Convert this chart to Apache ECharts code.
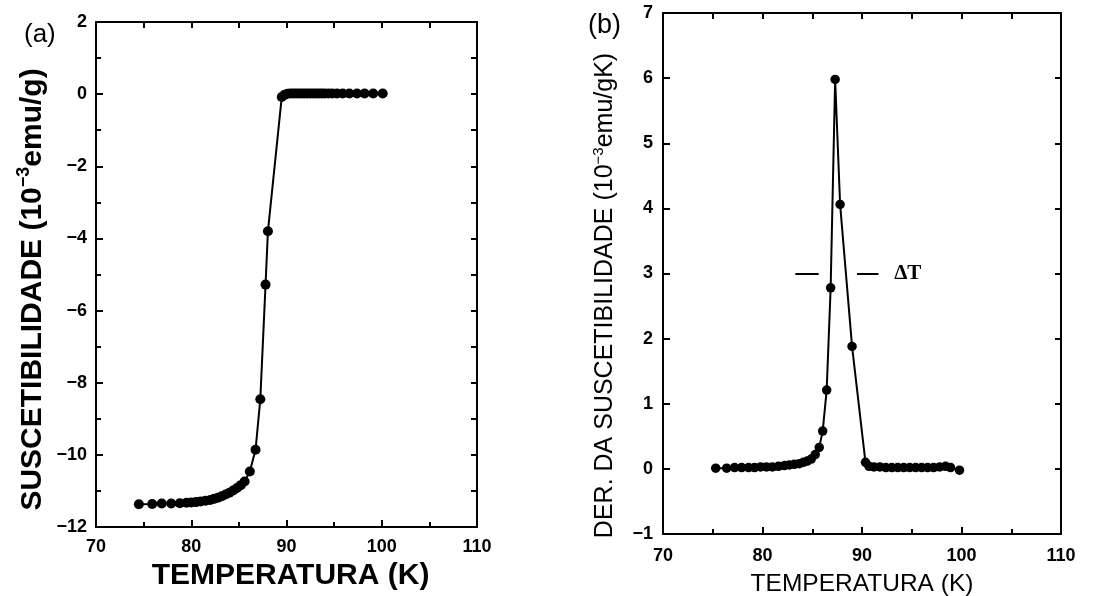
<!DOCTYPE html>
<html>
<head>
<meta charset="utf-8">
<script src="https://cdn.jsdelivr.net/npm/echarts@6/dist/echarts.min.js"></script>
<style>
  html, body { margin: 0; padding: 0; background: #fff; }
  #chart { width: 1094px; height: 596px; }
</style>
</head>
<body>
<div id="chart"></div>
<script>
// (a) susceptibility vs temperature
const tempA = [74.5, 75.9, 76.9, 77.9, 78.8, 79.5, 80.0, 80.5, 81.0, 81.5, 82.0, 82.4, 82.8, 83.2, 83.6,
  84.0, 84.4, 84.8, 85.2, 85.6, 86.15, 86.75, 87.25, 87.8, 88.05, 89.5, 89.8,
  90.1, 90.4, 90.7, 91.0, 91.3, 91.6, 91.9, 92.2, 92.5, 92.8, 93.1, 93.4, 93.7, 94.0,
  94.4, 94.8, 95.3, 95.9, 96.6, 97.4, 98.2, 99.1, 100.1];
const suscA = [-11.37, -11.36, -11.35, -11.35, -11.34, -11.33, -11.32, -11.31, -11.29, -11.27, -11.25, -11.22, -11.19, -11.15, -11.1,
  -11.05, -10.99, -10.92, -10.84, -10.74, -10.46, -9.86, -8.46, -5.28, -3.8, -0.08, -0.02,
  0.01, 0.02, 0.02, 0.02, 0.02, 0.02, 0.02, 0.02, 0.02, 0.02, 0.02, 0.02, 0.02, 0.02,
  0.02, 0.02, 0.02, 0.02, 0.02, 0.02, 0.02, 0.02, 0.02];

// (b) derivative of susceptibility vs temperature
const tempB = [75.3, 76.4, 77.2, 77.9, 78.6, 79.2, 79.8, 80.4, 81.0, 81.6, 82.2, 82.7, 83.2, 83.7,
  84.1, 84.5, 84.9, 85.3, 85.7, 86.05, 86.45, 86.85, 87.3, 87.8, 89.0, 90.35,
  90.7, 91.2, 91.8, 92.4, 93.0, 93.6, 94.2, 94.8, 95.4, 96.0, 96.6, 97.2, 97.8, 98.4, 98.9, 99.8];
const derivB = [0.01, 0.01, 0.02, 0.02, 0.02, 0.02, 0.03, 0.03, 0.03, 0.04, 0.05, 0.06, 0.07, 0.08,
  0.1, 0.12, 0.15, 0.22, 0.33, 0.58, 1.21, 2.78, 5.98, 4.06, 1.88, 0.1,
  0.04, 0.03, 0.03, 0.02, 0.02, 0.02, 0.02, 0.02, 0.02, 0.02, 0.02, 0.02, 0.03, 0.04, 0.02, -0.02];

// width at half maximum marker
const deltaTLevel = 3;
const deltaTLeft = [83.3, 85.65];
const deltaTRight = [89.5, 91.65];
const deltaTLabelAt = 94.6;

const zip = (xs, ys) => xs.map((x, i) => [x, ys[i]]);
const minus = v => String(v).replace('-', '\u2212');

const INK = '#000';
const tickFont = { color: INK, fontFamily: 'Liberation Sans', fontWeight: 'bold', fontSize: 18 };

function frame(grid, o) {
  const line = { show: true, onZero: false, lineStyle: { color: INK, width: 2 } };
  const tick = len => ({ show: true, inside: true, length: len, lineStyle: { color: INK, width: 2 } });
  const x0 = {
    type: 'value', gridIndex: grid, position: 'bottom', min: 70, max: 110, interval: 10,
    axisLine: line, axisTick: tick(7),
    minorTick: { show: true, splitNumber: 2, length: 5, lineStyle: { color: INK, width: 2 } },
    axisLabel: Object.assign({ margin: o.xMargin, formatter: minus }, tickFont),
    splitLine: { show: false },
    name: o.xName, nameLocation: 'middle', nameGap: o.xGap, nameTextStyle: o.xNameStyle
  };
  const x1 = {
    type: 'value', gridIndex: grid, position: 'top', min: 70, max: 110, interval: 5,
    axisLine: line, axisTick: tick(6), axisLabel: { show: false }, splitLine: { show: false }
  };
  const y0 = {
    type: 'value', gridIndex: grid, position: 'left', min: o.yMin, max: o.yMax, interval: o.yStep,
    axisLine: line, axisTick: tick(7),
    minorTick: { show: o.yMinor > 1, splitNumber: o.yMinor, length: 5, lineStyle: { color: INK, width: 2 } },
    axisLabel: Object.assign({ margin: o.yMargin, formatter: minus }, tickFont),
    splitLine: { show: false },
    name: o.yName, nameLocation: 'middle', nameGap: o.yGap, nameRotate: 90, nameTextStyle: o.yNameStyle
  };
  const y1 = {
    type: 'value', gridIndex: grid, position: 'right', min: o.yMin, max: o.yMax, interval: 1,
    axisLine: line, axisTick: tick(6), axisLabel: { show: false }, splitLine: { show: false }
  };
  return { x: [x0, x1], y: [y0, y1] };
}

// axis title styles; the "s" token is the raised exponent
function nameStyle(size, weight, shift) {
  const base = { color: INK, fontFamily: 'Liberation Sans', fontWeight: weight, fontSize: size };
  return Object.assign({}, base, {
    padding: shift ? [0, shift, 0, 0] : 0,
    rich: {
      n: Object.assign({}, base),
      s: Object.assign({}, base, { fontSize: Math.round(size * 0.6), padding: [0, 0, Math.round(size * 0.55), 0] })
    }
  });
}

const fa = frame(0, {
  yMin: -12, yMax: 2, yStep: 2, yMinor: 2, xMargin: 11, yMargin: 9,
  xName: 'TEMPERATURA (K)', xGap: 34, xNameStyle: Object.assign(nameStyle(30, 'bold'), { padding: [0, 0, 0, 8] }),
  yName: '{n|SUSCETIBILIDADE (10}{s|\u22123}{n|emu/g)}', yGap: 46, yNameStyle: nameStyle(30, 'bold', 30)
});
const fb = frame(1, {
  yMin: -1, yMax: 7, yStep: 1, yMinor: 1, xMargin: 13, yMargin: 10,
  xName: 'TEMPERATURA (K)', xGap: 38, xNameStyle: nameStyle(24.5, 'normal'),
  yName: '{n|DER. DA SUSCETIBILIDADE (10}{s|\u22123}{n|emu/gK)}', yGap: 43, yNameStyle: nameStyle(25, 'normal', 44)
});

const dataStyle = size => ({
  type: 'line', symbol: 'circle', symbolSize: size, showSymbol: true,
  lineStyle: { color: INK, width: 2 }, itemStyle: { color: INK, borderWidth: 0 },
  silent: true, z: 3
});

const option = {
  animation: false,
  backgroundColor: '#fff',
  grid: [
    { left: 96, top: 22, width: 381, height: 505, containLabel: false, outerBoundsMode: 'none' },
    { left: 663, top: 13, width: 398, height: 521, containLabel: false, outerBoundsMode: 'none' }
  ],
  xAxis: [...fa.x, ...fb.x],
  yAxis: [...fa.y, ...fb.y],
  series: [
    Object.assign(dataStyle(10), { xAxisIndex: 0, yAxisIndex: 0, data: zip(tempA, suscA) }),
    Object.assign(dataStyle(9.5), {
      xAxisIndex: 2, yAxisIndex: 2, data: zip(tempB, derivB),
      markLine: {
        silent: true, symbol: ['none', 'none'],
        lineStyle: { color: INK, width: 2, type: 'solid' },
        label: { show: false },
        data: [
          [{ coord: [deltaTLeft[0], deltaTLevel] }, { coord: [deltaTLeft[1], deltaTLevel] }],
          [{ coord: [deltaTRight[0], deltaTLevel] }, { coord: [deltaTRight[1], deltaTLevel] }]
        ]
      },
      markPoint: {
        silent: true, symbol: 'circle', symbolSize: 0,
        label: {
          show: true, position: 'inside', formatter: '\u0394T', color: INK,
          fontFamily: 'Liberation Serif', fontWeight: 'bold', fontSize: 21
        },
        data: [{ coord: [deltaTLabelAt, deltaTLevel] }]
      }
    })
  ],
  graphic: [
    { type: 'text', left: 24, top: 22, style: { text: '(a)', fill: INK, font: '26px "Liberation Sans"' } },
    { type: 'text', left: 588, top: 12, style: { text: '(b)', fill: INK, font: '27px "Liberation Sans"' } }
  ]
};

const chart = echarts.init(document.getElementById('chart'), null, { renderer: 'canvas' });
chart.setOption(option);
</script>
</body>
</html>
